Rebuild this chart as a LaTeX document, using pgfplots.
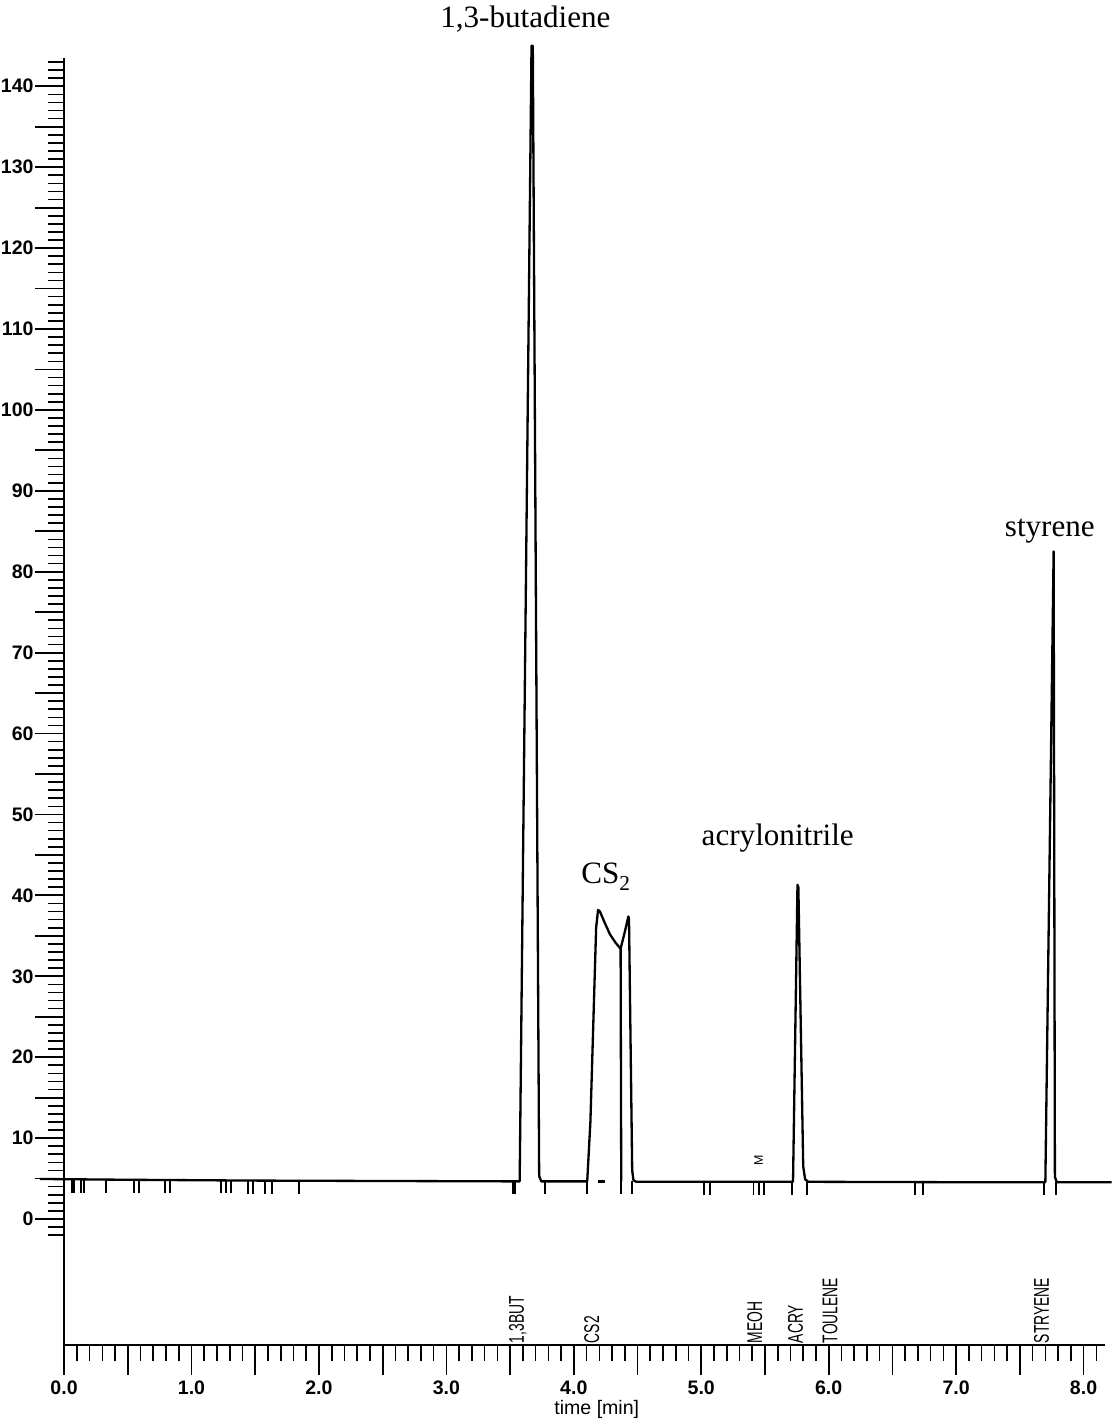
\documentclass[border=0pt]{standalone}
\usepackage{fontspec}
\setmainfont{Liberation Serif}
\setsansfont{Liberation Sans}
\usepackage{graphicx}
\usepackage{pgfplots}
\pgfplotsset{compat=1.18}

\begin{document}
\begin{tikzpicture}[
  trace/.style={black, line width=1.3pt, line join=round},
  evt/.style={only marks, mark=|, mark size=3.6pt, mark options={line width=1.1pt, black}},
  peaklbl/.style={font=\rmfamily\fontsize{17.5}{20}\selectfont},
  idlbl/.style={rotate=90, anchor=west, inner sep=1pt, font=\sffamily\fontsize{12}{12}\selectfont}
]
\begin{axis}[
  x=25.2mm, y=1.6mm,
  xmin=0, xmax=8.17, ymin=-15.6, ymax=143.5,
  axis lines=left,
  axis line style={-, line width=1.3pt},
  clip=false,
  tick align=outside,
  major tick length=5.8mm,
  minor tick length=3.1mm,
  every tick/.style={black, line width=1pt},
  every minor tick/.style={black, line width=0.9pt},
  xtick={0,0.5,...,8},
  xticklabels={0.0,,1.0,,2.0,,3.0,,4.0,,5.0,,6.0,,7.0,,8.0},
  minor xtick={0,0.1,...,8.15},
  ytick={0,5,...,140},
  yticklabels={0,,10,,20,,30,,40,,50,,60,,70,,80,,90,,100,,110,,120,,130,,140},
  minor ytick={-2,-1,...,143},
  tick label style={font=\sffamily\bfseries\fontsize{11}{11}\selectfont},
  yticklabel style={inner sep=0.5pt},
]

% chromatogram trace
\addplot[trace] coordinates {
  (-0.19,4.95) (0.5,4.85) (1.5,4.75) (2.5,4.7) (3.575,4.65)
  (3.668,145) (3.678,145) (3.728,5.3) (3.745,4.65)
  (4.105,4.65) (4.13,12) (4.175,36) (4.19,38.2) (4.205,38.0) (4.24,36.7)
  (4.283,35.2) (4.325,34.2) (4.367,33.4) (4.40,35.5) (4.428,37.4) (4.433,37.0)
  (4.458,6) (4.468,4.8) (4.49,4.6) (5.5,4.6)
  (5.72,4.6) (5.755,41.3) (5.762,41.0) (5.80,6.5) (5.815,4.9) (5.84,4.6)
  (7.0,4.55) (7.70,4.55) (7.765,82.5) (7.775,5.2) (7.79,4.55) (8.22,4.55)
};
% drop line at the CS2 valley and integrator baseline dash
\addplot[trace] coordinates {(4.367,33.4) (4.372,4.65)};
\addplot[trace] coordinates {(4.19,4.65) (4.245,4.65)};

% integrator event marks on the baseline
\addplot[evt] coordinates {
  (0.06,4.05) (0.08,4.05) (0.13,4.05) (0.16,4.05) (0.33,4.03)
  (0.55,4.0) (0.59,4.0) (0.79,3.98) (0.83,3.98)
  (1.23,3.95) (1.27,3.95) (1.31,3.95) (1.44,3.93) (1.48,3.93)
  (1.58,3.92) (1.63,3.92) (1.84,3.9)
};
\addplot[evt] coordinates {
  (3.52,3.86) (3.54,3.86) (3.77,3.86) (4.10,3.86) (4.37,3.86) (4.46,3.86)
  (5.02,3.8) (5.07,3.8) (5.41,3.8) (5.45,3.8) (5.49,3.8)
  (5.71,3.8) (5.83,3.8) (6.68,3.76) (6.74,3.76) (7.69,3.76) (7.78,3.76)
};
\node[rotate=90, font=\sffamily\fontsize{7}{7}\selectfont, inner sep=0pt] at (axis cs:5.45,7.2) {M};

% peak labels
\node[peaklbl] at (axis cs:3.62,148.3) {1,3-butadiene};
\node[peaklbl] at (axis cs:4.25,42.3) {CS\raisebox{-0.45ex}{\fontsize{12}{12}\selectfont 2}};
\node[peaklbl] at (axis cs:5.60,47.1) {acrylonitrile};
\node[peaklbl, anchor=base] at (axis cs:7.735,84.3) {styrene};

% component identifiers above the time axis
\node[idlbl] at (axis cs:3.56,-15.6) {\scalebox{0.65}[1]{1,3BUT}};
\node[idlbl] at (axis cs:4.14,-15.6) {\scalebox{0.65}[1]{CS2}};
\node[idlbl] at (axis cs:5.42,-15.6) {\scalebox{0.65}[1]{MEOH}};
\node[idlbl] at (axis cs:5.74,-15.6) {\scalebox{0.65}[1]{ACRY}};
\node[idlbl] at (axis cs:6.01,-15.6) {\scalebox{0.65}[1]{TOULENE}};
\node[idlbl] at (axis cs:7.67,-15.6) {\scalebox{0.65}[1]{STRYENE}};

\node[font=\sffamily\fontsize{11}{11}\selectfont, yshift=-12.6mm] at (axis cs:4.18,-15.6) {time [min]};
\end{axis}
\end{tikzpicture}
\end{document}
